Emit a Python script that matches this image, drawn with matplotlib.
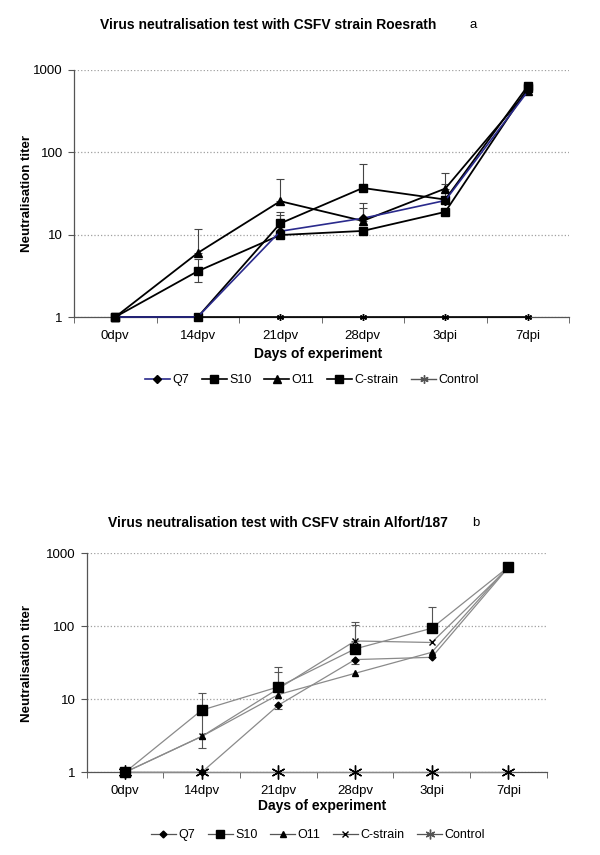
import numpy as np
import matplotlib
matplotlib.use("Agg")
import matplotlib.pyplot as plt
from matplotlib.lines import Line2D

plt.rcParams['font.family'] = ['Liberation Sans', 'DejaVu Sans']

days = ['0dpv', '14dpv', '21dpv', '28dpv', '3dpi', '7dpi']
series = ['Q7', 'S10', 'O11', 'C-strain', 'Control']

# panel a: CSFV strain Roesrath
a_q7 = [1, 1, 11, 15.8, 26, 550]
a_s10 = [1, 3.6, 9.9, 11.1, 18.9, 600]
a_o11 = [1, 6.0, 25.5, 14.7, 36.3, 560]
a_cs = [1, 1, 13.7, 36.9, 26.7, 640]
a_ctrl = [1, 1, 1, 1, 1, 1]
# error bar ends (nan = no bar)
a_q7_hi = [np.nan, np.nan, 17.2, 24.3, 41.8, np.nan]
a_s10_hi = [np.nan, 5.1, np.nan, np.nan, np.nan, np.nan]
a_s10_lo = [np.nan, 2.63, np.nan, np.nan, np.nan, np.nan]
a_o11_hi = [np.nan, 11.6, 47, 21.3, 56, np.nan]
a_cs_hi = [np.nan, np.nan, 18.9, 73, np.nan, np.nan]

# panel b: CSFV strain Alfort/187
b_q7 = [1, 1, 8.3, 35, 37.6, 640]
b_s10 = [1, 7.1, 14.8, 49, 94, 650]
b_o11 = [1, 3.1, 11.6, 22.7, 44, 660]
b_cs = [1, 3.1, 14, 63, 60, 630]
b_ctrl = [1, 1, 1, 1, 1, 1]
b_q7_lo = [np.nan, np.nan, 7.3, 30, np.nan, np.nan]
b_s10_hi = [np.nan, 12.3, 28, 105, 182, np.nan]
b_s10_lo = [np.nan, 2.17, np.nan, np.nan, np.nan, np.nan]
b_cs_hi = [np.nan, np.nan, 24, 114, np.nan, np.nan]

x = np.arange(len(days))
star = (6, 2, 0)


def err_bars(ax, vals, hi=None, lo=None, color='black'):
    vals = np.array(vals, dtype=float)
    hi = np.full(len(vals), np.nan) if hi is None else np.array(hi, dtype=float)
    lo = np.full(len(vals), np.nan) if lo is None else np.array(lo, dtype=float)
    idx = ~(np.isnan(hi) & np.isnan(lo))
    up = np.where(np.isnan(hi), 0, hi - vals)[idx]
    dn = np.where(np.isnan(lo), 0, vals - lo)[idx]
    ax.errorbar(x[idx], vals[idx], yerr=[dn, up], fmt='none', ecolor=color,
                elinewidth=0.8, capsize=3, capthick=0.8, zorder=2)


def style_axis(ax):
    ax.set_yscale('log')
    ax.set_ylim(1, 1000)
    ax.set_xlim(-0.5, len(days) - 0.5)
    ax.set_yticks([1, 10, 100, 1000])
    ax.set_yticklabels(['1', '10', '100', '1000'])
    ax.yaxis.set_minor_locator(matplotlib.ticker.NullLocator())
    ax.set_xticks(x)
    ax.set_xticklabels(days)
    ax.set_xticks(np.arange(-0.5, len(days)), minor=True)
    ax.tick_params(axis='x', which='major', length=0, pad=9, labelsize=9.5)
    ax.tick_params(axis='x', which='minor', length=4, direction='out', color='#555555')
    ax.tick_params(axis='y', which='major', length=4, direction='out', labelsize=9.5,
                   color='#555555', pad=4)
    ax.yaxis.grid(True, which='major', color='#a0a0a0', linestyle=':', linewidth=0.9)
    ax.set_axisbelow(True)
    for s in ['top', 'right']:
        ax.spines[s].set_visible(False)
    for s in ['left', 'bottom']:
        ax.spines[s].set_color('#555555')
        ax.spines[s].set_linewidth(0.9)


fig = plt.figure(figsize=(6, 8.55), dpi=100)

# ---- panel a ----
ax1 = fig.add_axes([74 / 600, 1 - 317 / 855, 495 / 600, 247 / 855])
style_axis(ax1)
err_bars(ax1, a_q7, hi=a_q7_hi, color='#444444')
err_bars(ax1, a_s10, hi=a_s10_hi, lo=a_s10_lo, color='#444444')
err_bars(ax1, a_o11, hi=a_o11_hi, color='#444444')
err_bars(ax1, a_cs, hi=a_cs_hi, color='#444444')
a_styles = [
    (a_ctrl, 'black', star, 5, 1.2),
    (a_s10, 'black', 's', 6, 1.3),
    (a_cs, 'black', 's', 6, 1.3),
    (a_o11, 'black', '^', 6, 1.3),
    (a_q7, '#2a2a8c', 'D', 4, 1.2),
]
for vals, col, mk, ms, lw in a_styles:
    ax1.plot(x, vals, color=col, marker=mk, markersize=ms, markerfacecolor='black',
             markeredgecolor='black', linewidth=lw, clip_on=False, zorder=3)

fig.text(268 / 600, 1 - 25 / 855, 'Virus neutralisation test with CSFV strain Roesrath',
         ha='center', va='center', fontsize=10, fontweight='bold',
         family=['Liberation Sans Narrow', 'Liberation Sans'])
fig.text(473 / 600, 1 - 25 / 855, 'a', ha='center', va='center', fontsize=9.5)
fig.text(318 / 600, 1 - 354 / 855, 'Days of experiment', ha='center', va='center',
         fontsize=10, fontweight='bold')
fig.text(27 / 600, 1 - 193 / 855, 'Neutralisation titer', ha='center', va='center',
         rotation=90, fontsize=9.5, fontweight='bold')

a_handles = [
    Line2D([], [], color='#2a2a8c', marker='D', markersize=4, markerfacecolor='black',
           markeredgecolor='black', lw=1.2),
    Line2D([], [], color='black', marker='s', markersize=6, lw=1.2),
    Line2D([], [], color='black', marker='^', markersize=6, lw=1.2),
    Line2D([], [], color='black', marker='s', markersize=6, lw=1.2),
    Line2D([], [], color='#555555', marker=star, markersize=6, lw=1.0),
]
fig.legend(a_handles, series, loc='center', bbox_to_anchor=(312 / 600, 1 - 380 / 855),
           ncol=5, frameon=False, fontsize=9, handlelength=2.0, handletextpad=0.2,
           columnspacing=1.0)

# ---- panel b ----
ax2 = fig.add_axes([86.7 / 600, 1 - 772.3 / 855, 460 / 600, 219 / 855])
style_axis(ax2)
err_bars(ax2, b_q7, lo=b_q7_lo, color='#555555')
err_bars(ax2, b_s10, hi=b_s10_hi, lo=b_s10_lo, color='#555555')
err_bars(ax2, b_cs, hi=b_cs_hi, color='#555555')
b_styles = [
    (b_ctrl, star, 10),
    (b_q7, 'D', 3.5),
    (b_cs, 'x', 4),
    (b_o11, '^', 5),
    (b_s10, 's', 7),
]
for vals, mk, ms in b_styles:
    ax2.plot(x, vals, color='#8a8a8a', marker=mk, markersize=ms, markerfacecolor='black',
             markeredgecolor='black', markeredgewidth=1.0, linewidth=0.9,
             clip_on=False, zorder=3)

fig.text(278 / 600, 1 - 523 / 855, 'Virus neutralisation test with CSFV strain Alfort/187',
         ha='center', va='center', fontsize=10, fontweight='bold',
         family=['Liberation Sans Narrow', 'Liberation Sans'])
fig.text(476 / 600, 1 - 523 / 855, 'b', ha='center', va='center', fontsize=9.5)
fig.text(322 / 600, 1 - 806 / 855, 'Days of experiment', ha='center', va='center',
         fontsize=10, fontweight='bold')
fig.text(27 / 600, 1 - 663 / 855, 'Neutralisation titer', ha='center', va='center',
         rotation=90, fontsize=9.5, fontweight='bold')

b_handles = [
    Line2D([], [], color='#555555', marker='D', markersize=3.5, markerfacecolor='black',
           markeredgecolor='black', lw=0.9),
    Line2D([], [], color='#555555', marker='s', markersize=6, markerfacecolor='black',
           markeredgecolor='black', lw=0.9),
    Line2D([], [], color='#555555', marker='^', markersize=5, markerfacecolor='black',
           markeredgecolor='black', lw=0.9),
    Line2D([], [], color='#555555', marker='x', markersize=4, markeredgecolor='black',
           lw=0.9),
    Line2D([], [], color='#555555', marker=star, markersize=7, markeredgecolor='#555555',
           lw=0.9),
]
fig.legend(b_handles, series, loc='center', bbox_to_anchor=(318 / 600, 1 - 835 / 855),
           ncol=5, frameon=False, fontsize=9, handlelength=2.0, handletextpad=0.2,
           columnspacing=1.0)

fig.savefig('out.png', dpi=100)
